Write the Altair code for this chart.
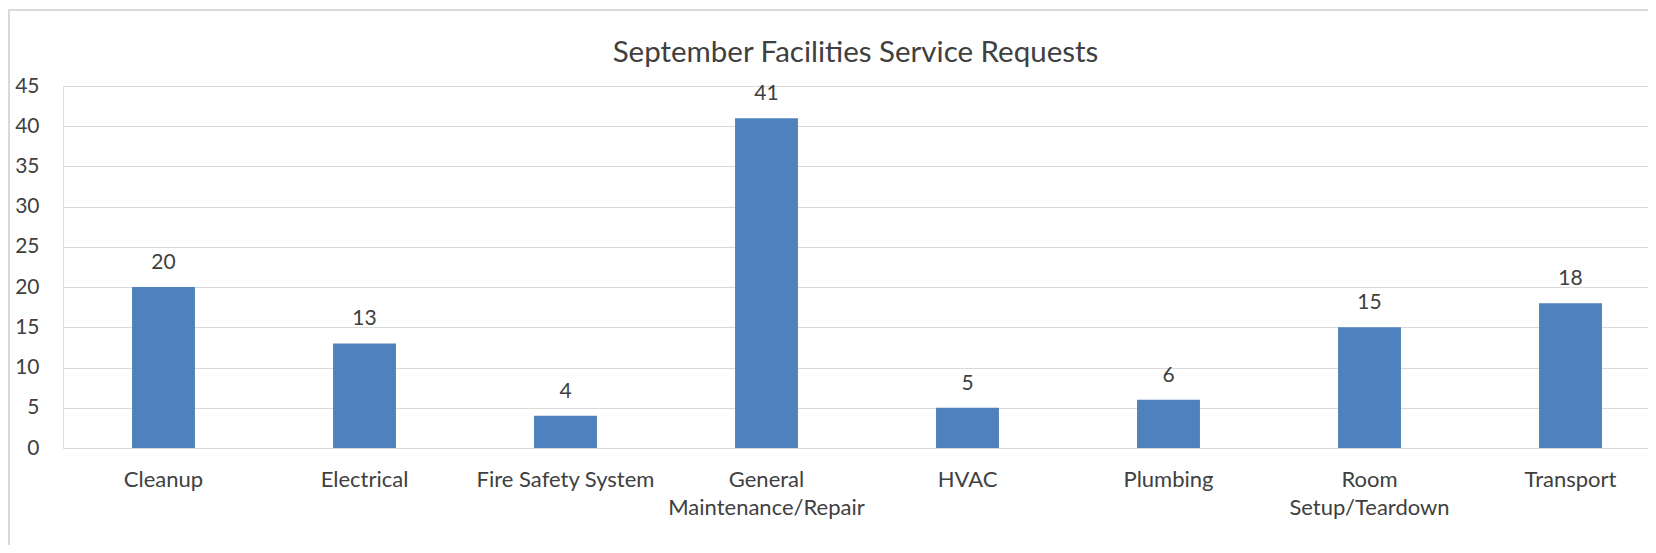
import altair as alt
import pandas as pd

categories = ["Cleanup", "Electrical", "Fire Safety System", "General Maintenance/Repair",
              "HVAC", "Plumbing", "Room Setup/Teardown", "Transport"]
requests = [20, 13, 4, 41, 5, 6, 15, 18]
y_ticks = [0, 5, 10, 15, 20, 25, 30, 35, 40, 45]
title_text = "September Facilities Service Requests"

df = pd.DataFrame({"category": categories, "requests": requests})

FONT = "Lato"
TEXT = "#404040"
GRID = "#D9D9D9"
BAR = "#4F81BD"

label_expr = ("datum.label == 'General Maintenance/Repair' ? ['General', 'Maintenance/Repair'] : "
              "datum.label == 'Room Setup/Teardown' ? ['Room', 'Setup/Teardown'] : datum.label")

x = alt.X("category:N", sort=categories,
          scale=alt.Scale(range=[0, 1608], paddingInner=0.687, paddingOuter=0.3435),
          axis=alt.Axis(title=None, labelAngle=0, domain=False, ticks=False, tickSize=0,
                        labelBaseline="alphabetic", labelPadding=38, labelFontSize=22,
                        labelLineHeight=28, labelFont=FONT, labelColor=TEXT,
                        labelLimit=400, labelOverlap=False, labelExpr=label_expr))
y = alt.Y("requests:Q", scale=alt.Scale(domain=[0, 45], nice=False),
          axis=alt.Axis(title=None, values=y_ticks, domain=False, ticks=False, tickSize=0,
                        labelPadding=24, labelFontSize=21, labelFont=FONT, labelColor=TEXT,
                        gridColor=GRID, gridWidth=1.2))

base = alt.Chart(df)
bars = base.mark_bar(color=BAR).encode(x=x, y=y)
labels = base.mark_text(baseline="alphabetic", dy=-18, fontSize=21, font=FONT, color=TEXT).encode(
    x=x, y=y, text=alt.Text("requests:Q"))

border_top = base.mark_rule(color=GRID, strokeWidth=1.5).encode(
    x=alt.value(-55), x2=alt.value(1600), y=alt.value(-76))
border_left = base.mark_rule(color=GRID, strokeWidth=1.5).encode(
    x=alt.value(-54), y=alt.value(-76), y2=alt.value(470))

chart = alt.layer(border_top, border_left, bars, labels).properties(
    width=1585, height=362,
    title=alt.TitleParams(title_text, font=FONT, fontSize=29.5, fontWeight="normal", color=TEXT,
                          anchor="middle", baseline="alphabetic", offset=-82),
    autosize=alt.AutoSizeParams(type="none"),
    padding={"left": 55, "top": 78, "right": 0, "bottom": 97},
).configure_view(stroke=None).configure(background="white")

chart.save("out.html", embed_options={"renderer": "svg", "actions": False})
